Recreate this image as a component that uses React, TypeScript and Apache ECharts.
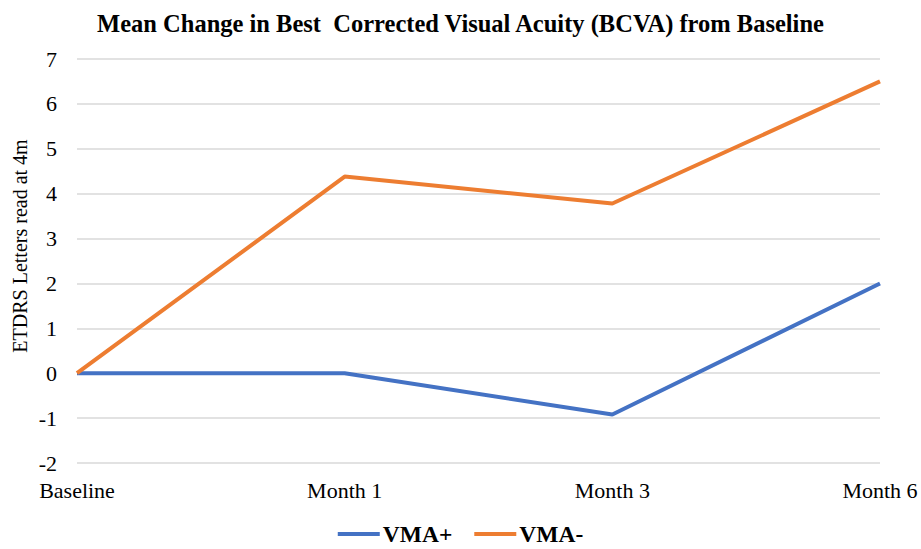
import React, { useEffect, useRef } from "react";
import * as echarts from "echarts";

const categories = ["Baseline", "Month 1", "Month 3", "Month 6"];
const vmaPlus = [0, 0, -0.92, 2.0];
const vmaMinus = [0, 4.38, 3.78, 6.5];
const seriesNames = ["VMA+", "VMA-"];
const titleText = "Mean Change in Best  Corrected Visual Acuity (BCVA) from Baseline";
const yAxisName = "ETDRS Letters read at 4m";

const FONT = "'Liberation Serif', 'Times New Roman', serif";

export default function App() {
  const ref = useRef<HTMLDivElement>(null);
  useEffect(() => {
    if (!ref.current) return;
    const chart = echarts.init(ref.current, undefined, { renderer: "svg" });
    chart.setOption({
      animation: false,
      backgroundColor: "#ffffff",
      title: {
        text: titleText,
        left: "center",
        top: 6,
        textStyle: { fontFamily: FONT, fontWeight: "bold", fontSize: 24.5, color: "#000" },
      },
      legend: {
        bottom: -2,
        left: "center",
        icon: "rect",
        itemWidth: 42,
        itemHeight: 4,
        itemGap: 22,
        textStyle: { fontFamily: FONT, fontWeight: "bold", fontSize: 23.5, color: "#000", padding: [0, 0, 0, -2] },
        data: seriesNames,
      },
      graphic: [
        {
          type: "text",
          x: 20,
          y: 246,
          rotation: Math.PI / 2,
          style: {
            text: yAxisName,
            fontFamily: FONT,
            fontSize: 20,
            fill: "#000",
            align: "center",
            verticalAlign: "middle",
          },
        },
      ],
      grid: { left: 77, right: 41, top: 59, bottom: 86, containLabel: false },
      xAxis: {
        type: "category",
        data: categories,
        boundaryGap: false,
        axisLine: { show: false },
        axisTick: { show: false },
        axisLabel: { fontFamily: FONT, fontSize: 22, color: "#000", margin: 16 },
      },
      yAxis: {
        type: "value",
        min: -2,
        max: 7,
        interval: 1,
        axisLine: { show: false },
        axisTick: { show: false },
        axisLabel: { fontFamily: FONT, fontSize: 22, color: "#000", margin: 20 },
        splitLine: { lineStyle: { color: "#d9d9d9", width: 1.5 } },
      },
      series: [
        {
          name: seriesNames[0],
          type: "line",
          data: vmaPlus,
          symbol: "none",
          lineStyle: { color: "#4472C4", width: 4 },
          itemStyle: { color: "#4472C4" },
        },
        {
          name: seriesNames[1],
          type: "line",
          data: vmaMinus,
          symbol: "none",
          lineStyle: { color: "#ED7D31", width: 4 },
          itemStyle: { color: "#ED7D31" },
        },
      ],
    });
    return () => chart.dispose();
  }, []);
  return <div ref={ref} style={{ width: 921, height: 549, position: "absolute", left: 0, top: 0 }} />;
}
